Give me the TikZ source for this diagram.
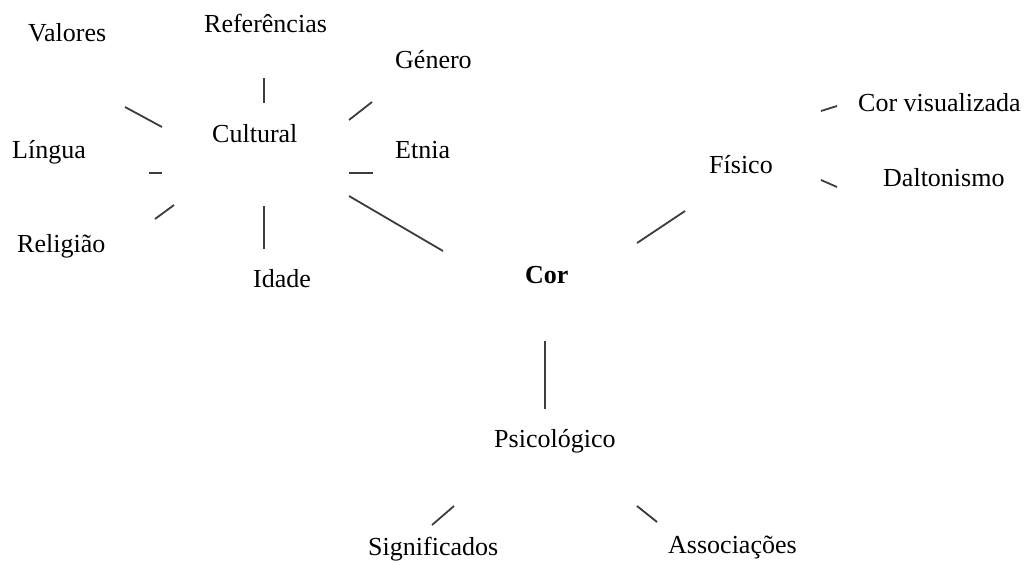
\documentclass[tikz,border=0pt]{standalone}
\usepackage{fontspec}
\setmainfont{Liberation Serif}
\begin{document}
\begin{tikzpicture}[x=1pt,y=-1pt,
  lbl/.style={anchor=base west,inner sep=0pt,font=\fontsize{26}{31}\selectfont},
  link/.style={draw={rgb,255:red,60;green,60;blue,60},line width=1.8pt}]
\useasboundingbox (0,0) rectangle (1034,565);
% nodes (base west positions in pixel coordinates)
\node[lbl] (valores)    at (28,41)   {Valores};
\node[lbl] (referencias) at (204,32) {Referências};
\node[lbl] (genero)     at (395,68)  {Género};
\node[lbl] (cultural)   at (212,142) {Cultural};
\node[lbl] (lingua)     at (12,158)  {Língua};
\node[lbl] (etnia)      at (395,158) {Etnia};
\node[lbl] (religiao)   at (17,252)  {Religião};
\node[lbl] (idade)      at (253,287) {Idade};
\node[lbl,font=\fontsize{26}{31}\selectfont\bfseries] (cor) at (525,283) {Cor};
\node[lbl] (fisico)     at (709,173) {Físico};
\node[lbl] (corvis)     at (858,111) {Cor visualizada};
\node[lbl] (dalton)     at (883,186) {Daltonismo};
\node[lbl] (psico)      at (494,447) {Psicológico};
\node[lbl] (signif)     at (368,555) {Significados};
\node[lbl] (assoc)      at (668,553) {Associações};
% connectors
\draw[link] ([shift={(52,-39)}]cultural.base west) -- ([shift={(60,46)}]referencias.base west);
\draw[link] ([shift={(-50,-15)}]cultural.base west) -- ([shift={(97,66)}]valores.base west);
\draw[link] ([shift={(137,-22)}]cultural.base west) -- ([shift={(-23,34)}]genero.base west);
\draw[link] ([shift={(-50,31)}]cultural.base west) -- ([shift={(137,15)}]lingua.base west);
\draw[link] ([shift={(137,31)}]cultural.base west) -- ([shift={(-22,15)}]etnia.base west);
\draw[link] ([shift={(-38,63)}]cultural.base west) -- ([shift={(138,-33)}]religiao.base west);
\draw[link] ([shift={(52,64)}]cultural.base west) -- ([shift={(11,-38)}]idade.base west);
\draw[link] ([shift={(-82,-32)}]cor.base west) -- ([shift={(137,54)}]cultural.base west);
\draw[link] ([shift={(112,-40)}]cor.base west) -- ([shift={(-24,38)}]fisico.base west);
\draw[link] ([shift={(112,-62)}]fisico.base west) -- ([shift={(-21,-5)}]corvis.base west);
\draw[link] ([shift={(112,7)}]fisico.base west) -- ([shift={(-46,1)}]dalton.base west);
\draw[link] ([shift={(20,58)}]cor.base west) -- ([shift={(51,-38)}]psico.base west);
\draw[link] ([shift={(-40,59)}]psico.base west) -- ([shift={(64,-30)}]signif.base west);
\draw[link] ([shift={(143,59)}]psico.base west) -- ([shift={(-11,-31)}]assoc.base west);
\end{tikzpicture}
\end{document}
